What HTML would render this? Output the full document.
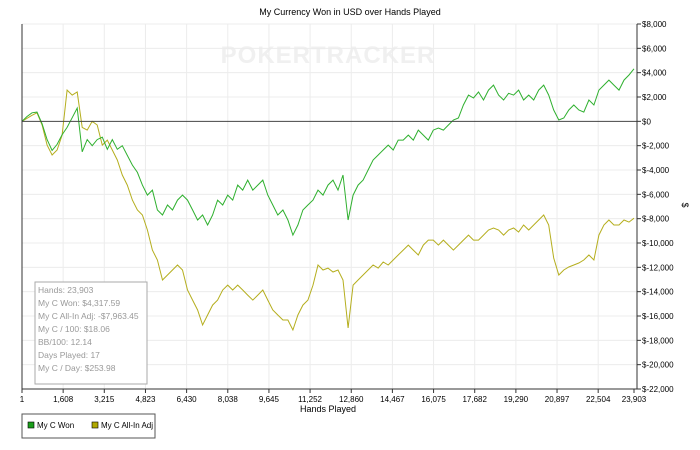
<!DOCTYPE html>
<html><head><meta charset="utf-8"><style>
body{margin:0;background:#fff;font-family:"Liberation Sans",sans-serif;}
svg text{font-family:"Liberation Sans",sans-serif;}
</style></head><body>
<svg id="c" width="700" height="445" xmlns="http://www.w3.org/2000/svg">
<text x="350" y="15" font-size="9" text-anchor="middle" fill="#000">My Currency Won in USD over Hands Played</text>
<text x="328" y="63" font-size="24" font-weight="bold" text-anchor="middle" fill="#f0f0f0" letter-spacing="1">POKERTRACKER</text>
<g id="grid"></g><g id="series"></g><g id="axes"></g>
<text x="328" y="412" font-size="9" text-anchor="middle">Hands Played</text>
<text x="682" y="205" font-size="9" text-anchor="middle" transform="rotate(90 682 205)">$</text>
<g>
<rect x="35" y="282" width="112" height="102" fill="#fff" stroke="#aaa"/>
<g font-size="8.5" fill="#999">
<text x="38" y="293">Hands: 23,903</text><text x="38" y="306">My C Won: $4,317.59</text>
<text x="38" y="319">My C All-In Adj: -$7,963.45</text><text x="38" y="332">My C / 100: $18.06</text>
<text x="38" y="345">BB/100: 12.14</text><text x="38" y="358">Days Played: 17</text>
<text x="38" y="371">My C / Day: $253.98</text></g></g>
<g>
<rect x="22" y="414" width="133" height="24" fill="#fff" stroke="#555"/>
<rect x="28" y="422" width="6" height="6" fill="#1a9e1a" stroke="#000" stroke-width="0.6"/>
<text x="37" y="428" font-size="8">My C Won</text>
<rect x="92" y="422" width="6" height="6" fill="#b0a800" stroke="#000" stroke-width="0.6"/>
<text x="101" y="428" font-size="8">My C All-In Adj</text>
</g>
</svg>
<script>
const totalHands = 23903;
const xTickLabels = ["1","1,608","3,215","4,823","6,430","8,038","9,645","11,252","12,860","14,467","16,075","17,682","19,290","20,897","22,504","23,903"];
const xTickHands = [1,1608,3215,4823,6430,8038,9645,11252,12860,14467,16075,17682,19290,20897,22504,23903];
const yTicks = [8000,6000,4000,2000,0,-2000,-4000,-6000,-8000,-10000,-12000,-14000,-16000,-18000,-20000,-22000];
const wonValues = [0,400,700,760,-200,-1500,-2400,-1900,-1100,-500,300,1090,-2500,-1500,-2000,-1500,-1300,-2300,-1500,-2300,-2000,-2800,-3600,-4200,-5240,-6060,-5650,-7290,-7700,-6880,-7290,-6470,-6060,-6470,-7290,-8110,-7700,-8520,-7700,-6470,-6880,-6060,-6470,-5240,-5650,-4830,-5650,-5240,-4830,-6060,-6880,-7700,-7290,-8110,-9350,-8520,-7290,-6880,-6470,-5650,-6060,-5240,-4830,-5650,-4410,-8110,-6060,-5240,-4830,-4000,-3180,-2770,-2360,-1950,-2360,-1540,-1540,-1130,-1540,-720,-1130,-1540,-720,-550,-720,-300,110,270,1340,2160,1920,2410,1750,2570,2980,2160,1750,2300,2160,2570,1750,2160,1750,2570,2980,2160,930,110,270,930,1340,930,760,1750,1340,2570,2980,3390,2980,2570,3390,3810,4318];
const allInValues = [0,250,500,700,-300,-1950,-2770,-2360,-1130,2570,2160,2410,-500,-720,0,-300,-1950,-1540,-2360,-3180,-4410,-5240,-6470,-7290,-7700,-8930,-10580,-11400,-13040,-12630,-12220,-11810,-12220,-13860,-14690,-15510,-16740,-15920,-15100,-14690,-13860,-13460,-13860,-13460,-13860,-14280,-14690,-14280,-13860,-14690,-15510,-15920,-16330,-16330,-17150,-15920,-15100,-14690,-13460,-11810,-12220,-12060,-12380,-12220,-13040,-16990,-13460,-13040,-12630,-12220,-11810,-12060,-11560,-11810,-11400,-10990,-10580,-10170,-10580,-10990,-10170,-9760,-9760,-10170,-9760,-10170,-10580,-10170,-9760,-9350,-9760,-9760,-9350,-8930,-8770,-8930,-9350,-8930,-8770,-9100,-8520,-8930,-8520,-8110,-7700,-8520,-11230,-12630,-12220,-11970,-11810,-11640,-11400,-10990,-11400,-9350,-8520,-8110,-8520,-8520,-8110,-8280,-7963];

const X0=22,X1=634,Y0=24,Y1=389,YMAX=8000,YMIN=-22000;
const xs=h=>X0+(h-1)/(totalHands-1)*(X1-X0);
const ys=v=>Y0+(YMAX-v)/(YMAX-YMIN)*(Y1-Y0);
const NS="http://www.w3.org/2000/svg";
function mk(tag,attrs,parent){const e=document.createElementNS(NS,tag);for(const k in attrs)e.setAttribute(k,attrs[k]);parent.appendChild(e);return e;}
const grid=document.getElementById('grid'),axes=document.getElementById('axes'),ser=document.getElementById('series');
xTickHands.forEach((h,i)=>{
  const x=xs(h);
  if(i>0&&i<xTickHands.length-1){const g=mk('line',{x1:x,x2:x,y1:Y0,y2:Y1,stroke:'#ececec'},grid);
  
  }
  const t=mk('line',{x1:x,x2:x,y1:Y1,y2:Y1+4,stroke:'#333'},axes);
  
  
  const l=mk('text',{x:x,y:Y1+13,'font-size':8,'text-anchor':'middle',fill:'#000'},axes);
  l.textContent=xTickLabels[i];
  
  
});
yTicks.forEach(v=>{
  const y=ys(v);
  if(v!==0){const g=mk('line',{x1:X0,x2:X1+3,y1:y,y2:y,stroke:'#ececec'},grid);
  
  }
  const t=mk('line',{x1:X1+3,x2:X1+7,y1:y,y2:y,stroke:'#333'},axes);
  
  
  const l=mk('text',{x:X1+8,y:y+3,'font-size':8,fill:'#000'},axes);
  l.textContent=(v<0?'$-':'$')+Math.abs(v).toLocaleString('en-US');
  
  
});
const zl=mk('line',{x1:X0,x2:X1+3,y1:ys(0),y2:ys(0),stroke:'#444'},axes);


const xa=mk('line',{x1:X0,x2:X1+3,y1:Y1,y2:Y1,stroke:'#333'},axes);


const ya=mk('line',{x1:X0,x2:X0,y1:Y0,y2:Y1,stroke:'#333'},axes);


const ya2=mk('line',{x1:X1+3,x2:X1+3,y1:Y0,y2:Y1,stroke:'#333'},axes);


function path(vals,color,name){
  const n=vals.length;
  const d=vals.map((v,i)=>(i?'L':'M')+xs(1+i*(totalHands-1)/(n-1)).toFixed(1)+' '+ys(v).toFixed(1)).join(' ');
  const p=mk('path',{d:d,fill:'none',stroke:color,'stroke-width':1},ser);
  
  
}
path(allInValues,'#b5ae1e','series-all-in-adj');
path(wonValues,'#2fb02f','series-won');
</script>
</body></html>
